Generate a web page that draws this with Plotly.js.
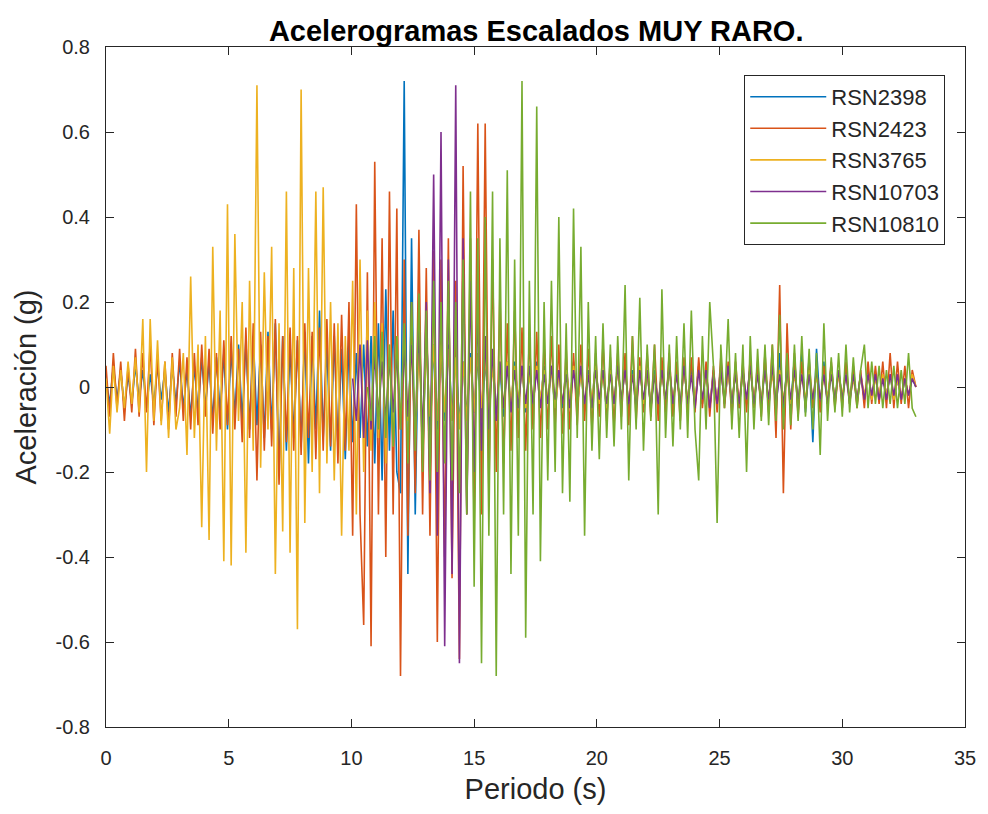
<!DOCTYPE html>
<html>
<head>
<meta charset="utf-8">
<script src="https://cdn.plot.ly/plotly-3.0.1.min.js"></script>
<style>html,body{margin:0;padding:0;background:#fff;}#chart{width:988px;height:814px;}</style>
</head>
<body>
<div id="chart"></div>
<script>
// Record names (legend)
const names = ['RSN2398', 'RSN2423', 'RSN3765', 'RSN10703', 'RSN10810'];
// Sampling: start time (s) of each record and sample step (s)
const startTimes = [0, 0, 0, 10.05, 10.65];
const sampleStep = 0.15;

// Acceleration values (g)
const accRSN2398 = [
  0.02,-0.04,0.05,-0.03,0.04,-0.05,0.03,-0.04,0.05,-0.03,
  0.04,-0.05,0.03,-0.04,0.05,-0.03,0.04,-0.06,0.05,-0.04,
  0.06,-0.05,0.04,-0.07,0.05,-0.06,0.07,-0.05,0.06,-0.08,
  0.07,-0.06,0.08,-0.1,0.09,-0.07,0.1,-0.08,0.11,-0.1,
  0.12,-0.09,0.1,-0.12,0.13,-0.1,0.15,-0.2,0.12,-0.15,
  0.1,-0.12,0.11,-0.14,0.13,-0.18,0.12,-0.1,0.18,-0.12,
  0.1,-0.15,0.12,-0.14,0.09,-0.17,0.11,-0.13,0.08,-0.12,
  0.1,-0.14,0.12,-0.18,0.15,-0.22,0.23,-0.15,0.18,-0.2,
  -0.25,0.72,-0.44,0.35,-0.3,0.2,-0.18,0.15,-0.12,0.1,
  -0.1,0.09,-0.08,0.1,-0.07,0.08,-0.09,0.06,-0.07,0.08,
  -0.06,0.07,-0.08,0.06,-0.05,0.07,-0.06,0.05,-0.07,0.06,
  -0.05,0.06,-0.04,0.05,-0.06,0.04,-0.05,0.06,-0.04,0.05,
  -0.04,0.05,-0.06,0.04,-0.05,0.05,-0.04,0.06,-0.05,0.04,
  -0.05,0.04,-0.04,0.06,-0.05,0.04,-0.06,0.05,-0.04,0.05,
  -0.04,0.05,-0.05,0.04,-0.04,0.06,-0.05,0.04,-0.05,0.04,
  -0.05,0.04,-0.04,0.05,-0.04,0.04,-0.05,0.05,-0.04,0.04,
  -0.04,0.05,-0.04,0.04,-0.05,0.04,-0.04,0.05,-0.04,0.04,
  -0.04,0.04,-0.05,0.04,-0.04,0.05,-0.04,0.04,-0.04,0.05,
  -0.05,0.06,-0.06,0.08,-0.07,0.06,-0.05,0.07,-0.06,0.08,
  -0.06,0.07,-0.13,0.09,-0.05,0.06,-0.04,0.05,-0.04,0.04,
  -0.03,0.04,-0.03,0.03,-0.04,0.03,-0.03,0.04,-0.03,0.03,
  -0.03,0.03,-0.02,0.03,-0.03,0.02,-0.03,0.02,-0.02,0.02,
  0.0
];
const accRSN2423 = [
  0.05,-0.07,0.08,-0.05,0.06,-0.08,0.05,-0.06,0.09,-0.07,
  0.08,-0.06,0.1,-0.09,0.07,-0.08,0.06,-0.1,0.08,-0.07,
  0.09,-0.08,0.07,-0.1,0.08,-0.09,0.1,-0.07,0.09,-0.11,
  0.08,-0.1,0.11,-0.09,0.12,-0.1,0.09,-0.13,0.14,-0.12,
  0.15,-0.22,0.13,-0.15,0.12,-0.14,0.16,-0.23,0.12,-0.13,
  0.14,-0.15,0.12,-0.16,0.15,-0.12,0.13,-0.17,0.14,-0.15,
  0.16,-0.14,0.15,-0.18,0.17,-0.15,0.2,-0.35,0.43,-0.3,
  -0.56,0.27,-0.61,0.53,-0.3,0.35,-0.4,0.46,-0.3,0.42,
  -0.68,0.3,-0.35,0.2,-0.25,0.37,-0.3,0.28,-0.35,0.32,
  -0.6,0.3,-0.4,0.35,-0.45,0.25,-0.64,0.52,-0.3,0.35,
  -0.33,0.62,-0.3,0.62,-0.25,0.3,-0.2,0.22,-0.18,0.15,
  -0.15,0.18,-0.12,0.14,-0.15,0.12,-0.1,0.13,-0.12,0.1,
  -0.1,0.12,-0.09,0.1,-0.11,0.09,-0.1,0.08,-0.09,0.1,
  -0.08,0.09,-0.1,0.08,-0.07,0.1,-0.08,0.07,-0.09,0.08,
  -0.07,0.08,-0.09,0.12,-0.08,0.07,-0.06,0.08,-0.07,0.1,
  -0.08,0.07,-0.06,0.08,-0.07,0.06,-0.08,0.07,-0.06,0.07,
  -0.06,0.07,-0.05,0.06,-0.07,0.05,-0.06,0.07,-0.05,0.06,
  -0.07,0.06,-0.05,0.06,-0.06,0.07,-0.05,0.06,-0.07,0.08,
  -0.06,0.1,-0.12,0.24,-0.25,0.15,-0.1,0.08,-0.07,0.06,
  -0.05,0.06,-0.05,0.04,-0.06,0.05,-0.04,0.06,-0.05,0.04,
  -0.05,0.06,-0.04,0.05,-0.05,0.04,-0.05,0.06,-0.04,0.05,
  -0.04,0.06,-0.05,0.08,-0.05,0.06,-0.04,0.05,-0.05,0.04,
  0.0
];
const accRSN3765 = [
  0.02,-0.11,0.05,-0.06,0.04,-0.05,0.06,-0.04,0.07,-0.06,
  0.16,-0.2,0.16,-0.08,0.11,-0.09,0.06,-0.12,0.07,-0.1,
  -0.05,0.08,-0.16,0.26,-0.12,0.1,-0.33,0.12,-0.36,0.33,
  -0.15,0.18,-0.41,0.43,-0.42,0.36,-0.08,0.2,-0.39,0.25,
  -0.15,0.71,-0.19,0.27,-0.1,0.33,-0.44,0.15,-0.34,0.46,
  -0.39,0.28,-0.57,0.70,-0.32,0.28,-0.2,0.46,-0.25,0.47,
  -0.18,0.2,-0.22,0.15,-0.35,0.12,-0.15,0.25,-0.3,0.3,
  -0.2,0.18,-0.15,0.2,-0.12,0.15,-0.18,0.1,-0.14,0.12,
  -0.1,0.12,-0.08,0.1,-0.12,0.08,-0.1,0.09,-0.07,0.1,
  -0.08,0.1,-0.06,0.09,-0.08,0.07,-0.1,0.06,-0.08,0.07,
  -0.06,0.08,-0.05,0.07,-0.06,0.05,-0.07,0.06,-0.05,0.06,
  -0.04,0.05,-0.03,0.04,-0.05,0.03,-0.04,0.05,-0.03,0.04,
  -0.03,0.04,-0.05,0.03,-0.04,0.04,-0.03,0.05,-0.04,0.03,
  -0.04,0.03,-0.03,0.05,-0.04,0.03,-0.05,0.04,-0.03,0.04,
  -0.03,0.04,-0.04,0.03,-0.03,0.05,-0.04,0.03,-0.04,0.03,
  -0.04,0.03,-0.03,0.04,-0.03,0.03,-0.04,0.04,-0.03,0.03,
  -0.03,0.04,-0.03,0.03,-0.04,0.03,-0.03,0.04,-0.03,0.03,
  -0.03,0.03,-0.04,0.03,-0.03,0.04,-0.03,0.03,-0.03,0.04,
  -0.03,0.03,-0.03,0.04,-0.03,0.03,-0.04,0.03,-0.03,0.03,
  -0.03,0.04,-0.03,0.03,-0.03,0.03,-0.03,0.04,-0.03,0.03,
  -0.02,0.03,-0.03,0.02,-0.03,0.03,-0.02,0.03,-0.03,0.02,
  -0.02,0.03,-0.02,0.03,-0.03,0.02,-0.03,0.02,-0.02,0.03,
  0.0
];
const accRSN10703 = [
  0.02,-0.08,0.1,-0.12,0.11,-0.1,0.08,-0.07,0.06,-0.08,
  0.07,-0.06,0.08,-0.1,0.09,-0.07,0.1,-0.12,0.15,-0.12,
  0.2,-0.25,0.5,-0.35,0.6,-0.61,0.3,-0.44,0.71,-0.65,
  0.35,-0.3,0.25,-0.2,0.18,-0.15,0.12,-0.1,0.09,-0.08,
  0.06,-0.05,0.05,-0.06,0.04,-0.05,0.05,-0.04,0.05,-0.04,
  0.04,-0.05,0.03,-0.04,0.05,-0.03,0.04,-0.04,0.03,-0.05,
  0.04,-0.03,0.05,-0.04,0.03,-0.05,0.04,-0.03,0.04,-0.04,
  0.03,-0.04,0.05,-0.03,0.04,-0.04,0.03,-0.05,0.04,-0.03,
  0.04,-0.05,0.03,-0.04,0.04,-0.03,0.05,-0.04,0.03,-0.04,
  0.05,-0.04,0.03,-0.05,0.04,-0.03,0.04,-0.05,0.03,-0.04,
  0.04,-0.03,0.05,-0.04,0.03,-0.04,0.04,-0.03,0.05,-0.04,
  0.03,-0.04,0.04,-0.03,0.05,-0.04,0.03,-0.04,0.04,-0.03,
  0.04,-0.03,0.03,-0.04,0.03,-0.03,0.04,-0.03,0.03,-0.04,
  0.03,-0.03,0.04,-0.03,0.03,-0.04,0.03,-0.03,0.03,-0.03,
  0.03,-0.02,0.03,-0.03,0.02,-0.03,0.03,-0.02,0.03,-0.03,
  0.02,-0.02,0.02,0.0
];
const accRSN10810 = [
  0.0,-0.08,0.12,-0.1,0.13,-0.12,0.1,-0.14,0.12,-0.1,
  0.15,-0.18,0.2,-0.15,0.22,-0.2,0.18,-0.22,0.25,-0.2,
  0.2,-0.18,0.25,-0.22,0.2,-0.25,0.3,-0.3,0.46,-0.47,
  0.35,-0.65,0.4,-0.35,0.46,-0.68,0.35,-0.3,0.51,-0.44,
  0.3,-0.35,0.72,-0.59,0.25,-0.3,0.66,-0.41,0.2,-0.22,
  0.25,-0.2,0.4,-0.25,0.15,-0.27,0.42,-0.12,0.33,-0.35,
  0.2,-0.15,0.12,-0.17,0.15,-0.12,0.1,-0.14,0.12,-0.1,
  0.24,-0.22,0.12,-0.1,0.21,-0.15,0.1,-0.08,0.1,-0.3,
  0.23,-0.12,0.1,-0.14,0.12,-0.1,0.15,-0.12,0.18,-0.1,
  -0.22,0.12,-0.1,0.2,0.05,-0.32,0.1,-0.05,0.16,-0.1,
  0.08,-0.12,0.1,-0.2,0.12,-0.1,0.09,-0.08,0.1,-0.09,
  0.1,-0.08,0.17,-0.1,0.08,-0.09,0.1,-0.08,0.12,-0.07,
  0.09,-0.1,0.08,-0.16,0.15,-0.08,0.07,-0.06,0.08,-0.07,
  0.1,-0.06,0.07,-0.05,0.04,0.1,-0.05,0.06,-0.04,0.05,
  -0.05,0.04,-0.04,0.05,-0.05,0.04,-0.04,0.08,-0.05,-0.07
];

// Axis tick labels
const xTickVals = [0, 5, 10, 15, 20, 25, 30, 35];
const xTickText = ['0', '5', '10', '15', '20', '25', '30', '35'];
const yTickVals = [-0.8, -0.6, -0.4, -0.2, 0, 0.2, 0.4, 0.6, 0.8];
const yTickText = ['-0.8', '-0.6', '-0.4', '-0.2', '0', '0.2', '0.4', '0.6', '0.8'];

const accData = [accRSN2398, accRSN2423, accRSN3765, accRSN10703, accRSN10810];
const colors = ['#0072BD', '#D95319', '#EDB120', '#7E2F8E', '#77AC30'];

const traces = names.map((n, k) => ({
  type: 'scatter',
  mode: 'lines',
  name: n,
  y: accData[k],
  x0: startTimes[k],
  dx: sampleStep,
  line: {color: colors[k], width: 1.6}
}));

const FONT = 'Liberation Sans, Arial, sans-serif';
const axisCol = '#262626';

const layout = {
  width: 988,
  height: 814,
  margin: {l: 106, r: 23, t: 47, b: 87},
  paper_bgcolor: '#ffffff',
  plot_bgcolor: '#ffffff',
  font: {family: FONT, color: axisCol, size: 20},
  title: {
    text: '<b>Acelerogramas Escalados MUY RARO.</b>',
    font: {family: FONT, size: 29, color: '#000000'},
    x: 0.5427, xanchor: 'center',
    y: 0.962, yanchor: 'middle'
  },
  showlegend: true,
  legend: {
    x: 0.977, xanchor: 'right',
    y: 0.959, yanchor: 'top',
    bgcolor: '#ffffff',
    bordercolor: '#262626',
    borderwidth: 1,
    font: {family: FONT, size: 22, color: axisCol},
    itemwidth: 76,
    tracegroupgap: 0
  },
  xaxis: {
    range: [0, 35],
    tickmode: 'array',
    tickvals: xTickVals,
    ticktext: xTickText,
    ticks: 'inside',
    ticklen: 8,
    tickcolor: axisCol,
    tickwidth: 1,
    showline: true,
    linecolor: axisCol,
    linewidth: 1,
    mirror: 'ticks',
    showgrid: false,
    zeroline: false,
    ticklabelstandoff: 13,
    tickfont: {family: FONT, size: 20, color: axisCol},
    title: {text: 'Periodo (s)', font: {family: FONT, size: 29, color: axisCol}, standoff: 10}
  },
  yaxis: {
    range: [-0.8, 0.8],
    tickmode: 'array',
    tickvals: yTickVals,
    ticktext: yTickText,
    ticks: 'inside',
    ticklen: 8,
    tickcolor: axisCol,
    tickwidth: 1,
    showline: true,
    linecolor: axisCol,
    linewidth: 1,
    mirror: 'ticks',
    showgrid: false,
    zeroline: false,
    ticklabelstandoff: 11,
    tickfont: {family: FONT, size: 20, color: axisCol},
    title: {text: 'Aceleración (g)', font: {family: FONT, size: 29, color: axisCol}, standoff: 10}
  }
};

Plotly.newPlot('chart', traces, layout, {displayModeBar: false, responsive: false});
</script>
</body>
</html>
